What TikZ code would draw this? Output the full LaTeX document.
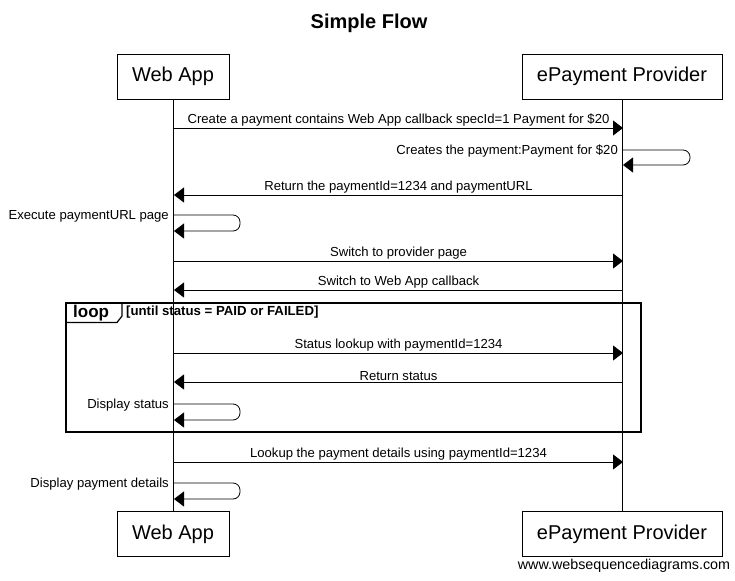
\documentclass[tikz,border=0pt]{standalone}
\usepackage{fontspec}
\setmainfont{Liberation Sans}
\usetikzlibrary{arrows.meta}
\begin{document}
\begin{tikzpicture}[x=1pt,y=-1pt,
  part/.style={draw,line width=0.8pt,minimum width=112pt,minimum height=45pt,inner sep=0pt,font=\fontsize{20}{24}\selectfont},
  partwide/.style={part,minimum width=200pt},
  msg/.style={line width=0.8pt,-{Triangle[length=10pt,width=15pt]}},
  life/.style={line width=0.8pt},
  lbl/.style={font=\fontsize{13.1}{15}\selectfont,inner sep=0pt},
  frame/.style={line width=1.5pt}]
\useasboundingbox (0,0) rectangle (735,580);
\node[font=\bfseries\fontsize{20}{24}\selectfont] (title) at (369,23) {Simple Flow};
\node[part] (wt) at (173,76.5) {Web App};
\node[partwide] (pt) at (622,76.5) {ePayment Provider};
\node[part] (wb) at (173,534) {Web App};
\node[partwide] (pb) at (622,534) {ePayment Provider};
\draw[life] (wt.south) -- (wb.north);
\draw[life] (pt.south) -- (pb.north);
% loop frame
\draw[frame] (66,303) rectangle (641,432);
\draw[line width=1.2pt] (66,322.5) -- (117,322.5) -- (122,316) -- (122,303);
\node[font=\bfseries\fontsize{17}{20}\selectfont,anchor=west,inner sep=0pt] (looplbl) at (73,313) {loop};
\node[font=\bfseries\fontsize{13.2}{15}\selectfont,anchor=west,inner sep=0pt] (guard) at (126,312) {[until status = PAID or FAILED]};
% message points
\coordinate (a1) at (174,128); \coordinate (b1) at (623,128);
\coordinate (b2s) at (623,150); \coordinate (b2e) at (623,165);
\coordinate (a3) at (174,195); \coordinate (b3) at (623,195);
\coordinate (a4s) at (174,215); \coordinate (a4e) at (174,231);
\coordinate (a5) at (174,261); \coordinate (b5) at (623,261);
\coordinate (a6) at (174,290); \coordinate (b6) at (623,290);
\coordinate (a7) at (174,353); \coordinate (b7) at (623,353);
\coordinate (a8) at (174,382); \coordinate (b8) at (623,382);
\coordinate (a9s) at (174,404); \coordinate (a9e) at (174,420);
\coordinate (a10) at (174,462); \coordinate (b10) at (623,462);
\coordinate (a11s) at (174,483); \coordinate (a11e) at (174,499);
% messages
\draw[msg] (a1) -- node[lbl,above=1pt] (t1) {Create a payment contains Web App callback specId=1 Payment for \$20} (b1);
\draw[msg,rounded corners=7pt] (b2s) -- (690,150) -- (690,165) -- (b2e);
\node[lbl,anchor=base east] (t2) at (618,154) {Creates the payment:Payment for \$20};
\draw[msg] (b3) -- node[lbl,above=1pt] (t3) {Return the paymentId=1234 and paymentURL} (a3);
\draw[msg,rounded corners=7pt] (a4s) -- (240,215) -- (240,231) -- (a4e);
\node[lbl,anchor=base east] (t4) at (169,219.5) {Execute paymentURL page};
\draw[msg] (a5) -- node[lbl,above=1pt] (t5) {Switch to provider page} (b5);
\draw[msg] (b6) -- node[lbl,above=1pt] (t6) {Switch to Web App callback} (a6);
\draw[msg] (a7) -- node[lbl,above=1pt] (t7) {Status lookup with paymentId=1234} (b7);
\draw[msg] (b8) -- node[lbl,above=1pt] (t8) {Return status} (a8);
\draw[msg,rounded corners=7pt] (a9s) -- (240,404) -- (240,420) -- (a9e);
\node[lbl,anchor=base east] (t9) at (169,408.5) {Display status};
\draw[msg] (a10) -- node[lbl,above=1pt] (t10) {Lookup the payment details using paymentId=1234} (b10);
\draw[msg,rounded corners=7pt] (a11s) -- (240,483) -- (240,499) -- (a11e);
\node[lbl,anchor=base east] (t11) at (169,487.5) {Display payment details};
\node[font=\fontsize{14.3}{16}\selectfont,inner sep=0pt] (wm) at (624,566) {www.websequencediagrams.com};
\end{tikzpicture}
\end{document}
